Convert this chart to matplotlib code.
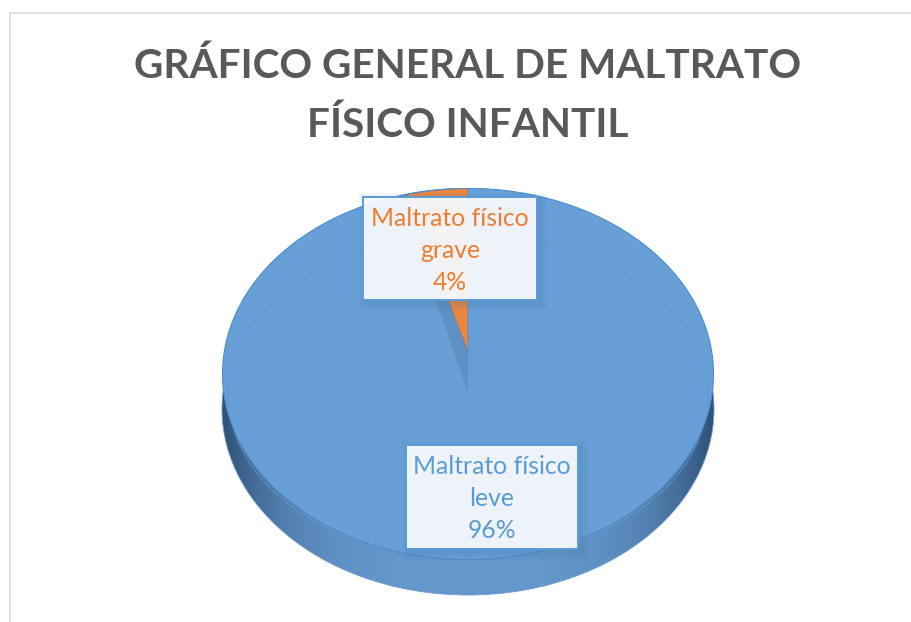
import numpy as np
import matplotlib
matplotlib.use("Agg")
import matplotlib.pyplot as plt
from matplotlib.patches import Ellipse, Rectangle, Polygon

categories = ["Maltrato físico leve", "Maltrato físico grave"]
values = [96, 4]
percent_labels = ["96%", "4%"]
title_lines = ["GRÁFICO GENERAL DE MALTRATO", "FÍSICO INFANTIL"]

W, H = 912, 622
BLUE, ORANGE = "#5B9BD5", "#ED7D31"
CX, CY, RX, RY, DEPTH = 468, 374, 246, 186, 35

plt.rcParams["font.family"] = ["Lato", "DejaVu Sans"]
fig = plt.figure(figsize=(W / 100, H / 100), dpi=100)


def pixel_axes(z):
    a = fig.add_axes([0, 0, 1, 1], zorder=z)
    a.set_xlim(0, W); a.set_ylim(H, 0); a.axis("off")
    a.patch.set_alpha(0)
    return a


bg = pixel_axes(1)
fg = pixel_axes(3)

# chart frame
bg.plot([10, 10, W], [H, 13, 13], color="#D9D9D9", lw=1.2, zorder=1)

# title
for line, y in zip(title_lines, [66, 125]):
    bg.text(468, y, line, ha="center", va="center", fontsize=29.2,
            fontweight="bold", color="#595959", zorder=2)

# side wall with horizontal gradient
t = np.linspace(-1, 1, 400)
shade = np.abs(t) ** 3.5
c_mid = np.array([0x64, 0x98, 0xCC]) / 255
c_edge = np.array([0x2F, 0x50, 0x75]) / 255
img = (c_mid[None, :] * (1 - shade[:, None]) + c_edge[None, :] * shade[:, None])[None, :, :]
wall = Ellipse((CX, CY + DEPTH), 2 * RX, 2 * RY, transform=bg.transData,
               facecolor="none", edgecolor="none")
bg.add_patch(wall)
im = bg.imshow(img, extent=[CX - RX, CX + RX, CY + DEPTH + RY, CY], aspect="auto", zorder=3)
im.set_clip_path(wall)
bg.set_xlim(0, W); bg.set_ylim(H, 0)
bg.add_patch(Ellipse((CX, CY + DEPTH), 2 * RX, 2 * RY, fill=False, edgecolor="#6A9BCF", lw=0.6, zorder=4))

# top surface of the pie, mapped to an ellipse
pie_ax = fig.add_axes([(CX - RX) / W, 1 - (CY + RY) / H, 2 * RX / W, 2 * RY / H], zorder=2)
pie_ax.patch.set_alpha(0)
start = 90 + 360 * values[1] / sum(values)
wedges, _ = pie_ax.pie(values, colors=["#689FD6", "#689FD6"], startangle=start, radius=1,
                       wedgeprops=dict(edgecolor="none"))
pie_ax.set_aspect("auto")
pie_ax.set_xlim(-1.002, 1.002); pie_ax.set_ylim(-1.002, 1.002)
pie_ax.add_patch(Ellipse((0, 0), 2, 2, fill=False, edgecolor="#4C8BCB", lw=0.8, zorder=6))
pie_ax.add_patch(Ellipse((0, -0.118), 1.95, 1.76, fill=False, edgecolor="#629ACF", lw=0.6, zorder=3))

angle = 2 * np.pi * values[1] / sum(values)
th = np.linspace(0, angle, 30)
# gap showing the dark inner wall
gap_apex = (CY - 393) / RY
gth = np.linspace(0, angle * 1.12, 30)
pie_ax.add_patch(Polygon(np.r_[[[0, gap_apex]], np.c_[-np.sin(gth), np.cos(gth)]],
                         facecolor="#5E90C3", edgecolor="none", zorder=4))
# detached slice
apex = (CY - 352) / RY
pie_ax.add_patch(Polygon(np.r_[[[0, apex]], np.c_[-np.sin(th), np.cos(th)]],
                         facecolor="#E9853F", edgecolor="#4A86C4", lw=0.5, zorder=5))

# data labels
boxes = [(406, 445, 172, 104, BLUE, 0, [466, 499, 531], "leve"),
         (363, 197, 174, 103, ORANGE, 1, [218, 250, 283], "grave")]
for x, y, w, h, col, i, ys, second in boxes:
    for k, a in zip([8, 6, 4, 2], [0.04, 0.05, 0.06, 0.07]):
        fg.add_patch(Rectangle((x - k + 3, y - k + 3), w + 2 * k, h + 2 * k,
                               facecolor="#3E74AD", edgecolor="none", alpha=a, zorder=7))
    fg.add_patch(Rectangle((x, y), w, h, facecolor="#F8FAFE", alpha=0.94,
                           edgecolor="none", zorder=8))
    fg.add_patch(Rectangle((x, y), w, h, fill=False, edgecolor="#5B9BD5", lw=1.4, zorder=9))
    first = categories[i].rsplit(" ", 1)[0]
    for line, yy in zip([first, second, percent_labels[i]], ys):
        fg.text(x + w / 2, yy, line, ha="center", va="center", fontsize=17.8,
                color=col, zorder=10)

fig.savefig("out.png", dpi=100, facecolor="white")
